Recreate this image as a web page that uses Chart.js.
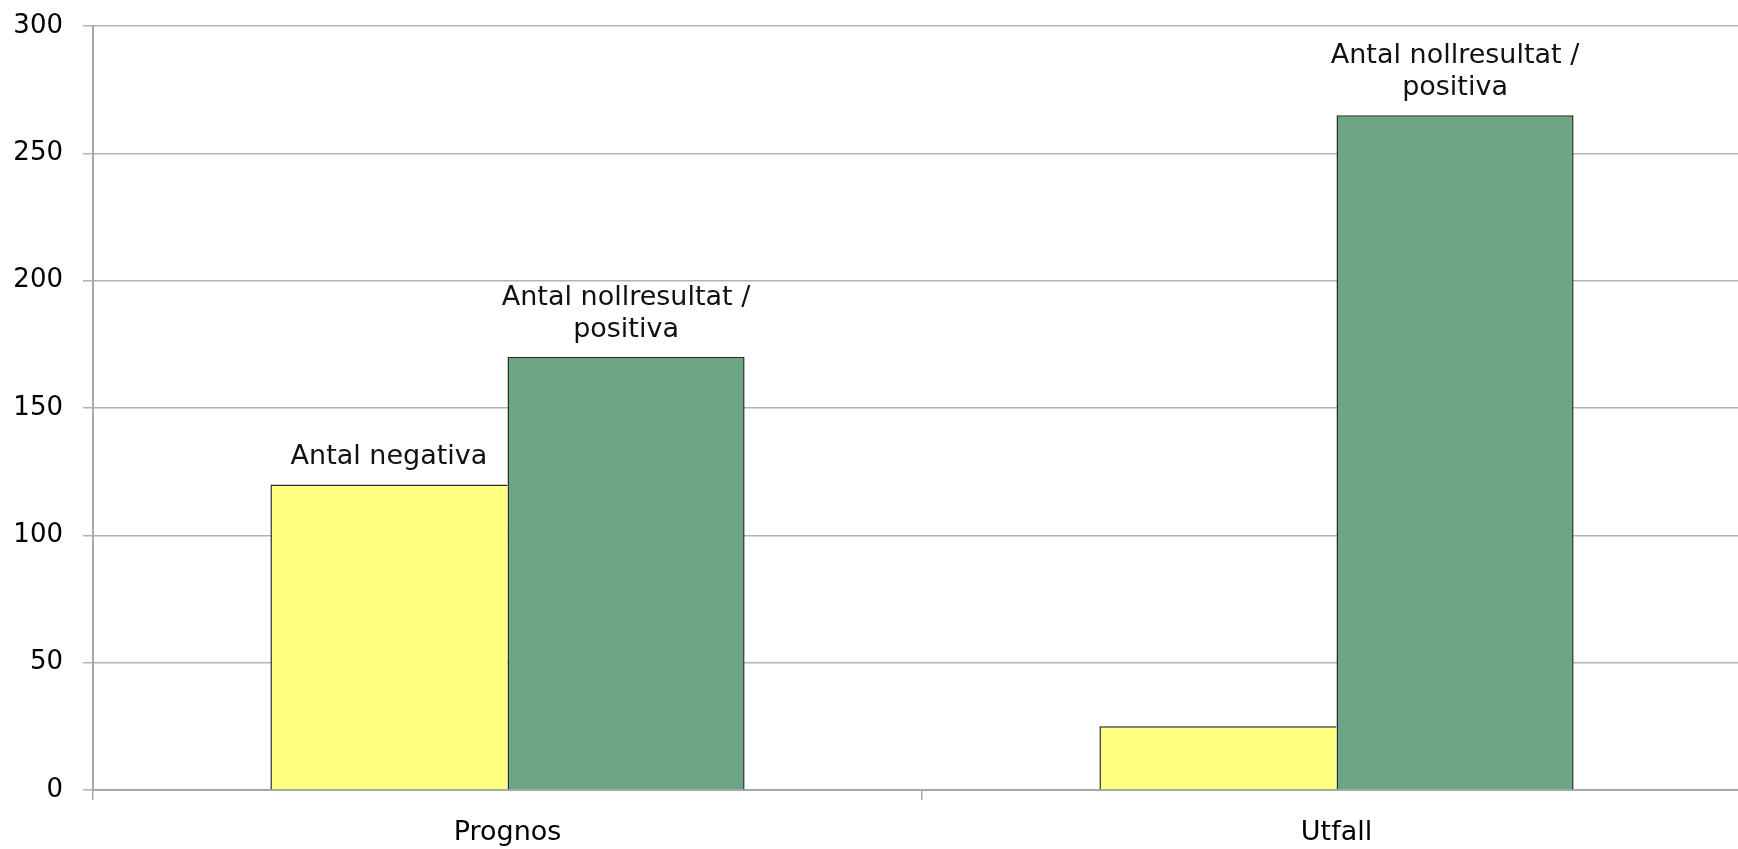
<!DOCTYPE html>
<html>
<head>
<meta charset="utf-8">
<script src="https://cdn.jsdelivr.net/npm/chart.js@4/dist/chart.umd.min.js"></script>
<style>
  html, body { margin: 0; padding: 0; background: #fff; overflow: hidden; }
  #wrap { width: 1760px; height: 849px; }
</style>
</head>
<body>
<div id="wrap"><canvas id="myChart"></canvas></div>
<script>
const categories = ['Prognos', 'Utfall'];
const seriesNames = ['Antal negativa', 'Antal nollresultat / positiva'];
const negValues = [120, 25];
const posValues = [170, 265];
// label text shown above each bar (empty = no label)
const negLabels = [['Antal negativa'], []];
const posLabels = [['Antal nollresultat /', 'positiva'], ['Antal nollresultat /', 'positiva']];
const yTicks = [0, 50, 100, 150, 200, 250, 300];

const FONT = '"DejaVu Sans", Verdana, sans-serif';

// draws the series name above the bars, like the original
const barLabels = {
  id: 'barLabels',
  afterDatasetsDraw(chart) {
    const ctx = chart.ctx;
    ctx.save();
    ctx.font = '27px ' + FONT;
    ctx.fillStyle = '#111';
    ctx.textAlign = 'center';
    ctx.textBaseline = 'alphabetic';
    chart.data.datasets.forEach((ds, i) => {
      const meta = chart.getDatasetMeta(i);
      meta.data.forEach((bar, j) => {
        const lines = ds.pointLabels[j];
        if (!lines || !lines.length) return;
        const last = bar.y - 20;
        lines.forEach((txt, k) => {
          ctx.fillText(txt, bar.x, last - (lines.length - 1 - k) * 32);
        });
      });
    });
    ctx.restore();
  }
};

const ctx = document.getElementById('myChart').getContext('2d');
const chart = new Chart(ctx, {
  type: 'bar',
  data: {
    labels: categories,
    datasets: [{
      label: seriesNames[0],
      data: negValues,
      pointLabels: negLabels,
      backgroundColor: '#ffff80',
      borderColor: '#2a2a2a',
      // right edge is shared with the green bar, drawn there
      borderWidth: { top: 1.5, left: 1.5, right: 0, bottom: 0 }
    }, {
      label: seriesNames[1],
      data: posValues,
      pointLabels: posLabels,
      backgroundColor: '#6da684',
      borderColor: '#2a2a2a',
      borderWidth: { top: 1.5, left: 1.5, right: 1.5, bottom: 0 }
    }]
  },
  options: {
    responsive: true,
    maintainAspectRatio: false,
    animation: false,
    datasets: { bar: { barPercentage: 1, categoryPercentage: 0.572 } },
    layout: { padding: { top: 0, left: 0, right: 9, bottom: 0 } },
    plugins: {
      legend: { display: false },
      tooltip: { enabled: false }
    },
    scales: {
      x: {
        z: 1,
        afterFit(scale) { scale.height = 59; },
        grid: {
          offset: true,
          drawOnChartArea: false,
          drawTicks: true,
          tickLength: 10,
          color: '#a8a8a8',
          lineWidth: 1.5
        },
        border: { display: true, color: '#a8a8a8', width: 2 },
        ticks: { color: '#000', font: { family: FONT, size: 27 }, padding: 17 }
      },
      y: {
        z: 1,
        min: 0,
        max: 300,
        afterBuildTicks(scale) { scale.ticks = yTicks.map(v => ({ value: v })); },
        afterFit(scale) {
          scale.width = 93;
          scale.paddingTop = 26;
          scale.paddingBottom = 0;
        },
        grid: {
          color: 'rgba(0,0,0,0.3)',
          lineWidth: 1.5,
          tickLength: 10
        },
        border: { display: true, color: '#a8a8a8', width: 2 },
        ticks: { color: '#000', font: { family: FONT, size: 26 }, padding: 20 }
      }
    }
  },
  plugins: [barLabels]
});
</script>
</body>
</html>
